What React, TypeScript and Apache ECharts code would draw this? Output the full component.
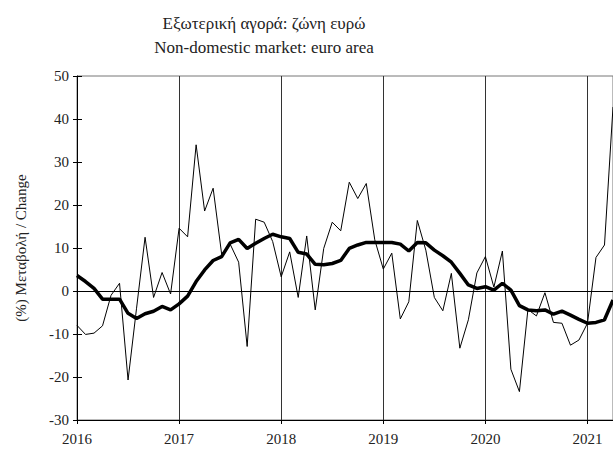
import React, { useEffect, useRef } from "react";
import * as echarts from "echarts";

const years = ["2016", "2017", "2018", "2019", "2020", "2021"];
const startYear = 2016;

// monthly year-on-year change (thin line), Jan 2016 .. Apr 2021
const monthly = [
  -8.0, -10.1, -9.8, -8.1, -1.0, 1.8, -20.7, -4.0, 12.5, -1.5, 4.3, -0.7,
  14.6, 12.6, 34.0, 18.6, 23.9, 8.6, 10.9, 6.7, -12.9, 16.7, 16.0, 11.5,
  3.3, 9.1, -1.5, 12.8, -4.4, 9.9, 16.0, 14.0, 25.3, 21.5, 25.0, 11.9,
  5.1, 8.8, -6.5, -2.5, 16.4, 9.5, -1.5, -4.6, 4.1, -13.3, -6.7, 4.2,
  8.0, 0.9, 9.3, -18.2, -23.4, -4.3, -5.8, -0.4, -7.3, -7.5, -12.6, -11.4,
  -7.5, 7.8, 10.7, 42.8,
];

// moving average (thick line)
const average = [
  3.6, 2.2, 0.6, -1.9, -1.9, -1.9, -5.2, -6.4, -5.3, -4.7, -3.6, -4.4,
  -3.0, -1.2, 2.2, 4.9, 7.1, 8.0, 11.2, 12.0, 9.9, 11.1, 12.2, 13.2,
  12.6, 12.2, 9.0, 8.6, 6.2, 6.1, 6.4, 7.1, 9.9, 10.7, 11.3, 11.3,
  11.3, 11.3, 10.9, 9.3, 11.3, 11.2, 9.5, 8.2, 6.7, 4.1, 1.4, 0.6,
  1.0, 0.2, 1.8, 0.2, -3.4, -4.4, -4.6, -4.4, -5.4, -4.7, -5.6, -6.6,
  -7.5, -7.3, -6.7, -2.1,
];

const titleLine1 = "Εξωτερική αγορά: ζώνη ευρώ";
const titleLine2 = "Non-domestic market: euro area";
const yAxisTitle = "(%) Μεταβολή / Change";

const FONT = "Liberation Serif";

export default function App() {
  const ref = useRef<HTMLDivElement>(null);

  useEffect(() => {
    if (!ref.current) return;
    const chart = echarts.init(ref.current, null, { renderer: "svg" });
    const thinData = monthly.map((v, i) => [i, v]);
    const thickData = average.map((v, i) => [i, v]);
    chart.setOption({
      animation: false,
      backgroundColor: "#ffffff",
      textStyle: { fontFamily: FONT },
      graphic: [
        {
          type: "text",
          x: 264,
          y: 23,
          style: {
            text: titleLine1,
            fontFamily: FONT,
            fontSize: 17,
            fill: "#222",
            textAlign: "center",
            textVerticalAlign: "middle",
          },
        },
        {
          type: "text",
          x: 264,
          y: 47,
          style: {
            text: titleLine2,
            fontFamily: FONT,
            fontSize: 17,
            fill: "#222",
            textAlign: "center",
            textVerticalAlign: "middle",
          },
        },
      ],
      grid: {
        left: 77,
        right: 0,
        top: 76,
        bottom: 32,
        show: true,
        borderColor: "#777",
        borderWidth: 1,
      },
      xAxis: {
        type: "value",
        min: 0,
        max: monthly.length - 1,
        interval: 12,
        axisLine: { show: true, onZero: false, lineStyle: { color: "#000", width: 1 } },
        axisTick: { show: true, length: 4, lineStyle: { color: "#000" } },
        axisLabel: {
          color: "#222",
          fontFamily: FONT,
          fontSize: 15,
          margin: 11,
          formatter: (v: number) => years[Math.round(v / 12)] ?? String(startYear + v / 12),
        },
        splitLine: { show: true, lineStyle: { color: "#333", width: 1 } },
      },
      yAxis: [
        {
          type: "value",
          min: -30,
          max: 50,
          interval: 10,
          name: yAxisTitle,
          nameLocation: "middle",
          nameGap: 49,
          nameRotate: 90,
          nameTextStyle: { fontFamily: FONT, fontSize: 15, color: "#222" },
          axisLine: { show: true, onZero: false, lineStyle: { color: "#000", width: 1 } },
          axisTick: { show: true, length: 4, lineStyle: { color: "#000" } },
          axisLabel: { color: "#222", fontFamily: FONT, fontSize: 15, margin: 8 },
          splitLine: { show: false },
        },
        {
          type: "value",
          position: "left",
          min: -30,
          max: 50,
          interval: 10,
          axisLine: { show: false },
          axisTick: { show: true, inside: true, length: 5, lineStyle: { color: "#000" } },
          axisLabel: { show: false },
          splitLine: { show: false },
        },
      ],
      series: [
        {
          type: "line",
          data: thinData,
          symbol: "none",
          lineStyle: { color: "#000", width: 1 },
          z: 3,
          markLine: {
            silent: true,
            symbol: "none",
            label: { show: false },
            lineStyle: { color: "#000", width: 1.2, type: "solid" },
            data: [{ yAxis: 0 }],
          },
        },
        {
          type: "line",
          data: thickData,
          symbol: "none",
          lineStyle: { color: "#000", width: 3.5 },
          z: 4,
        },
      ],
    });
    return () => chart.dispose();
  }, []);

  return (
    <div
      ref={ref}
      style={{ position: "absolute", left: 0, top: 0, width: 613, height: 452 }}
    />
  );
}
